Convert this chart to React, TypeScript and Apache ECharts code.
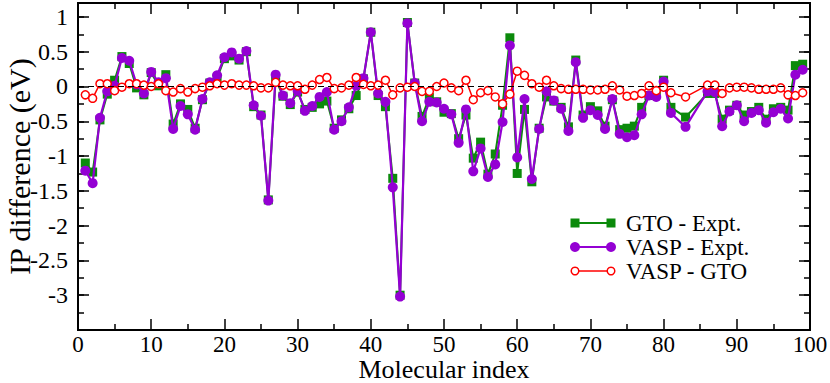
import React, { useEffect, useRef } from 'react';
import * as echarts from 'echarts';

// Molecular indices (82, 84 and 85 are absent in the reference)
const molecules = [
  1, 2, 3, 4, 5, 6, 7, 8, 9, 10, 11, 12, 13, 14, 15, 16, 17, 18, 19, 20,
  21, 22, 23, 24, 25, 26, 27, 28, 29, 30, 31, 32, 33, 34, 35, 36, 37, 38, 39, 40,
  41, 42, 43, 44, 45, 46, 47, 48, 49, 50, 51, 52, 53, 54, 55, 56, 57, 58, 59, 60,
  61, 62, 63, 64, 65, 66, 67, 68, 69, 70, 71, 72, 73, 74, 75, 76, 77, 78, 79, 80,
  81, 83, 86, 87, 88, 89, 90, 91, 92, 93, 94, 95, 96, 97, 98, 99,
];

const gtoExpt = [
  -1.1, -1.23, -0.48, -0.11, 0.09, 0.43, 0.33, -0.02, -0.12, 0.2,
  0.01, 0.17, -0.54, -0.25, -0.33, -0.6, -0.19, 0.05, 0.12, 0.4,
  0.44, 0.38, 0.5, -0.29, -0.41, -1.63, 0.11, -0.14, -0.26, -0.08,
  -0.33, -0.3, -0.25, -0.21, -0.6, -0.48, -0.32, -0.13, 0.11, 0.78,
  -0.13, -0.29, -1.32, -3.0, 0.92, 0.05, -0.43, -0.16, -0.22, -0.37,
  -0.39, -0.75, -0.41, -1.03, -0.8, -1.26, -0.97, -0.27, 0.7, -1.25,
  -0.33, -1.37, -0.6, -0.15, -0.21, -0.3, -0.58, 0.38, -0.41, -0.29,
  -0.35, -0.57, -0.19, -0.62, -0.6, -0.57, -0.3, -0.13, -0.1, 0.09,
  -0.3, -0.44, -0.1, -0.1, -0.47, -0.34, -0.27, -0.41, -0.36, -0.3,
  -0.47, -0.32, -0.3, -0.34, 0.3, 0.32,
];

const vaspExpt = [
  -1.21, -1.39, -0.45, -0.07, 0.01, 0.41, 0.37, 0.03, -0.1, 0.21,
  0.06, 0.12, -0.61, -0.28, -0.4, -0.62, -0.18, 0.06, 0.16, 0.42,
  0.49, 0.4, 0.51, -0.27, -0.42, -1.64, 0.17, -0.13, -0.24, -0.06,
  -0.35, -0.28, -0.15, -0.08, -0.62, -0.5, -0.3, 0.01, 0.12, 0.78,
  -0.1, -0.22, -1.45, -3.02, 0.91, 0.05, -0.5, -0.22, -0.23, -0.32,
  -0.4, -0.81, -0.33, -1.22, -0.89, -1.3, -1.12, -0.51, 0.59, -1.02,
  -0.18, -1.33, -0.61, -0.07, -0.2, -0.32, -0.64, 0.35, -0.45, -0.34,
  -0.41, -0.61, -0.18, -0.68, -0.73, -0.7, -0.4, -0.13, -0.15, 0.07,
  -0.38, -0.58, -0.07, -0.08, -0.57, -0.36, -0.27, -0.5, -0.38, -0.34,
  -0.52, -0.37, -0.32, -0.46, 0.17, 0.24,
];

const vaspGto = [
  -0.12, -0.17, 0.04, 0.04, -0.06, -0.01, 0.04, 0.04, 0.02, 0.0,
  0.04, -0.06, -0.08, -0.03, -0.08, -0.03, -0.01, 0.01, 0.04, 0.02,
  0.04, 0.02, 0.02, 0.01, -0.02, -0.02, 0.06, 0.02, 0.01, 0.01,
  -0.04, 0.02, 0.1, 0.13, -0.03, -0.02, 0.02, 0.13, 0.03, 0.01,
  0.02, 0.09, -0.12, -0.02, -0.01, 0.0, -0.07, -0.07, 0.0, 0.05,
  -0.02, -0.06, 0.09, -0.19, -0.09, -0.06, -0.15, -0.25, -0.11, 0.22,
  0.16, 0.04, -0.01, 0.09, 0.01, -0.03, -0.04, -0.04, -0.04, -0.05,
  -0.05, -0.04, 0.01, -0.05, -0.14, -0.13, -0.1, 0.01, -0.06, -0.01,
  -0.09, -0.15, 0.02, 0.02, -0.1, -0.02, -0.01, -0.01, -0.02, -0.04,
  -0.04, -0.04, -0.02, -0.12, -0.13, -0.09,
];

const seriesNames = ['GTO - Expt.', 'VASP - Expt.', 'VASP - GTO'];
const seriesColors = ['#0b8a0b', '#9400d3', '#ff0000'];
const yTickLabels = [-3, -2.5, -2, -1.5, -1, -0.5, 0, 0.5, 1];
const xTitle = 'Molecular index';
const yTitle = 'IP difference (eV)';

const FONT = 'Liberation Serif';

export default function App() {
  const ref = useRef<HTMLDivElement>(null);

  useEffect(() => {
    document.body.style.margin = '0';
    const chart = echarts.init(ref.current!, null, { renderer: 'svg' });

    const pair = (vals: number[]) => molecules.map((m, k) => [m, vals[k]]);

    const yLabel = (v: number) => {
      const hit = yTickLabels.find((t) => Math.abs(t - v) < 1e-6);
      return hit === undefined ? '' : String(hit);
    };

    const baseX = {
      type: 'value',
      min: 0,
      max: 100,
      interval: 10,
      splitLine: { show: false },
      axisLine: { show: true, onZero: false, lineStyle: { color: '#000', width: 2 } },
      axisTick: { show: true, inside: true, length: 11, lineStyle: { color: '#000', width: 1.5 } },
      minorTick: { show: true, splitNumber: 2, length: 6, lineStyle: { color: '#000', width: 1.5 } },
    };

    const yBase = {
      type: 'value',
      min: -3.5,
      max: 1.2,
      splitLine: { show: false },
      axisLine: { show: true, onZero: false, lineStyle: { color: '#000', width: 2 } },
    };

    const legendItems: any[] = [];
    const legendY = [223, 247, 271];
    seriesNames.forEach((name, k) => {
      const y = legendY[k];
      const c = seriesColors[k];
      legendItems.push({
        type: 'line',
        shape: { x1: 575, y1: y, x2: 611, y2: y },
        style: { stroke: c, lineWidth: k === 2 ? 1.5 : 2 },
      });
      [575, 611].forEach((cx) => {
        if (k === 0) {
          legendItems.push({
            type: 'rect',
            shape: { x: cx - 4.5, y: y - 4.5, width: 9, height: 9 },
            style: { fill: c },
          });
        } else if (k === 1) {
          legendItems.push({
            type: 'circle',
            shape: { cx, cy: y, r: 5 },
            style: { fill: c },
          });
        } else {
          legendItems.push({
            type: 'circle',
            shape: { cx, cy: y, r: 3.8 },
            style: { fill: '#fff', stroke: c, lineWidth: 1.5 },
          });
        }
      });
      legendItems.push({
        type: 'text',
        x: 626,
        y,
        style: {
          text: name,
          fontSize: 23,
          fontFamily: FONT,
          lineHeight: 21,
          fill: '#000',
          verticalAlign: 'middle',
          align: 'left',
        },
      });
    });

    chart.setOption({
      animation: false,
      backgroundColor: '#fff',
      textStyle: { fontFamily: FONT },
      grid: { left: 78, right: 20, top: 3, bottom: 53, containLabel: false, outerBoundsMode: 'none' },
      xAxis: [
        {
          ...baseX,
          position: 'bottom',
          name: xTitle,
          nameLocation: 'middle',
          nameGap: 27,
          nameMoveOverlap: false,
          nameTextStyle: { fontSize: 26, lineHeight: 24, color: '#000', fontFamily: FONT },
          axisLabel: { show: true, fontSize: 23, lineHeight: 20, color: '#000', margin: 4, fontFamily: FONT },
        },
        {
          ...baseX,
          position: 'top',
          axisLabel: { show: false },
        },
      ],
      yAxis: [
        {
          ...yBase,
          position: 'left',
          interval: 0.5,
          name: yTitle,
          nameLocation: 'middle',
          nameGap: 44,
          nameMoveOverlap: false,
          nameRotate: 90,
          nameTextStyle: { fontSize: 30, color: '#000', fontFamily: FONT },
          axisTick: { show: true, inside: true, length: 11, lineStyle: { color: '#000', width: 1.5 } },
          axisLabel: { show: true, fontSize: 24, color: '#000', margin: 10, fontFamily: FONT, formatter: yLabel },
        },
        {
          ...yBase,
          position: 'left',
          interval: 0.25,
          axisTick: { show: true, inside: true, length: 6, lineStyle: { color: '#000', width: 1.5 } },
          axisLabel: { show: false },
        },
        {
          ...yBase,
          position: 'right',
          interval: 0.5,
          axisTick: { show: true, inside: true, length: 11, lineStyle: { color: '#000', width: 1.5 } },
          axisLabel: { show: false },
        },
        {
          ...yBase,
          position: 'right',
          interval: 0.25,
          axisTick: { show: true, inside: true, length: 6, lineStyle: { color: '#000', width: 1.5 } },
          axisLabel: { show: false },
        },
      ],
      series: [
        {
          name: seriesNames[0],
          type: 'line',
          data: pair(gtoExpt),
          symbol: 'rect',
          symbolSize: 9,
          color: seriesColors[0],
          lineStyle: { color: seriesColors[0], width: 2 },
          itemStyle: { color: seriesColors[0] },
          z: 2,
          markLine: {
            silent: true,
            symbol: 'none',
            label: { show: false },
            lineStyle: { color: '#000', type: [6, 4], width: 1.2 },
            data: [{ yAxis: 0 }],
          },
        },
        {
          name: seriesNames[1],
          type: 'line',
          data: pair(vaspExpt),
          symbol: 'circle',
          symbolSize: 10,
          color: seriesColors[1],
          lineStyle: { color: seriesColors[1], width: 2.2 },
          itemStyle: { color: seriesColors[1] },
          z: 3,
        },
        {
          name: seriesNames[2],
          type: 'line',
          data: pair(vaspGto),
          symbol: 'circle',
          symbolSize: 8,
          color: seriesColors[2],
          lineStyle: { color: seriesColors[2], width: 1.5 },
          itemStyle: { color: '#fff', borderColor: seriesColors[2], borderWidth: 1.5 },
          z: 4,
        },
      ],
      graphic: [{ type: 'group', children: legendItems }],
    });

    return () => chart.dispose();
  }, []);

  return <div ref={ref} style={{ width: 830, height: 383 }} />;
}
